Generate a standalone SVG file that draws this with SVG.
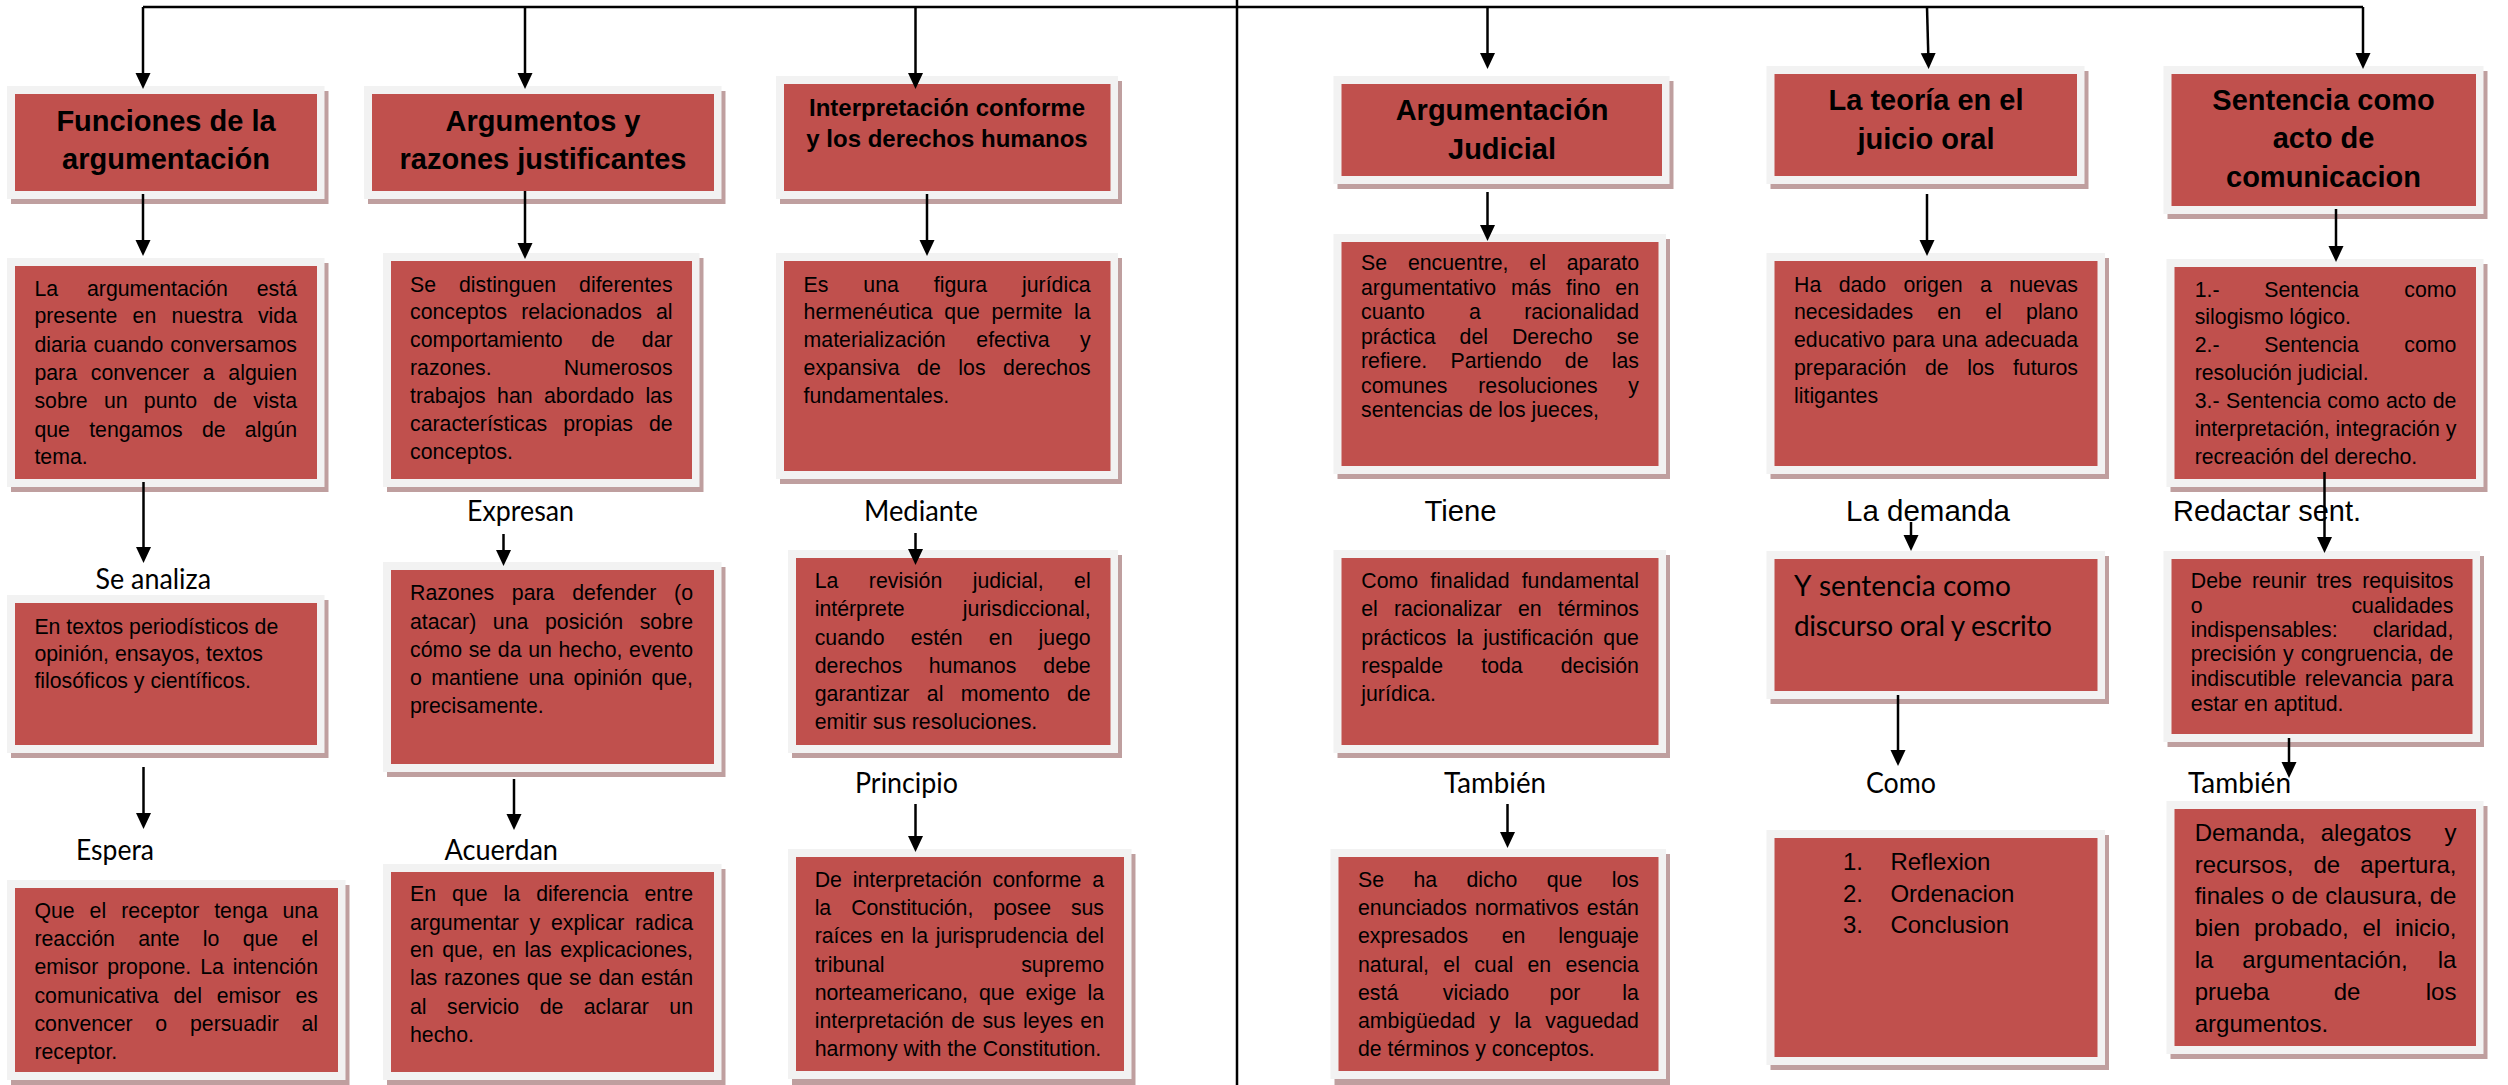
<svg xmlns="http://www.w3.org/2000/svg" width="2508" height="1085" viewBox="0 0 2508 1085">
<defs>
<marker id="ah" viewBox="0 0 16 16" refX="10" refY="8" markerWidth="16" markerHeight="16" markerUnits="userSpaceOnUse" orient="auto"><path d="M0,0.5 L16,8 L0,15.5 z" fill="#000"/></marker>
</defs>
<style>
.sh{fill:#bf9f9f}
.fr{fill:#f2f2f2}
.rd{fill:#c0504d}
text{fill:#000}
.t{font-family:"Liberation Sans",Arial,sans-serif;font-size:21.3px}
.t24{font-family:"Liberation Sans",Arial,sans-serif;font-size:24px}
.ti{font-family:"Liberation Sans",Arial,sans-serif;font-size:29px;font-weight:bold;text-anchor:middle}
.ti2{font-family:"Liberation Sans",Arial,sans-serif;font-size:24px;font-weight:bold;text-anchor:middle}
.cal{font-family:Lato,"Open Sans",sans-serif;font-size:28px}
.arl{font-family:"Liberation Sans",Arial,sans-serif;font-size:29px}
.m{text-anchor:middle}
.e{text-anchor:end}
.cn{stroke:#000;stroke-width:2.5;fill:none}
</style>
<rect width="2508" height="1085" fill="#fff"/>

<!-- Column A -->
<g id="funciones">
<rect class="sh" x="11" y="91" width="317.5" height="113"/>
<rect class="fr" x="7" y="86" width="317.5" height="113"/>
<rect class="rd" x="15" y="94" width="302" height="97"/>
<text class="ti" x="166" y="130.7">Funciones de la</text>
<text class="ti" x="166" y="169.3">argumentación</text>
</g>
<g id="funciones-desc">
<rect class="sh" x="11" y="263" width="317.5" height="229"/>
<rect class="fr" x="7" y="258" width="317.5" height="229"/>
<rect class="rd" x="15" y="266" width="302" height="213"/>
<text class="t" x="34.4" y="296" style="word-spacing:22.97px" textLength="262.6" lengthAdjust="spacing">La argumentación está</text>
<text class="t" x="34.4" y="323.3" style="word-spacing:9.39px" textLength="262.6" lengthAdjust="spacing">presente en nuestra vida</text>
<text class="t" x="34.4" y="351.7" style="word-spacing:1.09px" textLength="262.6" lengthAdjust="spacing">diaria cuando conversamos</text>
<text class="t" x="34.4" y="380" style="word-spacing:7.82px" textLength="262.6" lengthAdjust="spacing">para convencer a alguien</text>
<text class="t" x="34.4" y="408.3" style="word-spacing:10.3px" textLength="262.6" lengthAdjust="spacing">sobre un punto de vista</text>
<text class="t" x="34.4" y="436.7" style="word-spacing:13.3px" textLength="262.6" lengthAdjust="spacing">que tengamos de algún</text>
<text class="t" x="34.4" y="464.3">tema.</text>
</g>
<g id="se-analiza">
<text class="cal" x="95.5" y="589" textLength="115.5" lengthAdjust="spacingAndGlyphs">Se analiza</text>
</g>
<g id="textos">
<rect class="sh" x="11" y="600" width="317.5" height="158"/>
<rect class="fr" x="7" y="595" width="317.5" height="158"/>
<rect class="rd" x="15" y="603" width="302" height="142"/>
<text class="t" x="34.4" y="633.5">En textos periodísticos de</text>
<text class="t" x="34.4" y="661">opinión, ensayos, textos</text>
<text class="t" x="34.4" y="688">filosóficos y científicos.</text>
</g>
<g id="espera">
<text class="cal" x="76" y="860" textLength="78" lengthAdjust="spacingAndGlyphs">Espera</text>
</g>
<g id="receptor">
<rect class="sh" x="11" y="885" width="338.5" height="200"/>
<rect class="fr" x="7" y="880" width="338.5" height="200"/>
<rect class="rd" x="15" y="888" width="323" height="184"/>
<text class="t" x="34.4" y="918" style="word-spacing:9.04px" textLength="283.6" lengthAdjust="spacing">Que el receptor tenga una</text>
<text class="t" x="34.4" y="945.6" style="word-spacing:17.3px" textLength="283.6" lengthAdjust="spacing">reacción ante lo que el</text>
<text class="t" x="34.4" y="974" style="word-spacing:2.98px" textLength="283.6" lengthAdjust="spacing">emisor propone. La intención</text>
<text class="t" x="34.4" y="1003" style="word-spacing:8.92px" textLength="283.6" lengthAdjust="spacing">comunicativa del emisor es</text>
<text class="t" x="34.4" y="1031" style="word-spacing:16.8px" textLength="283.6" lengthAdjust="spacing">convencer o persuadir al</text>
<text class="t" x="34.4" y="1059">receptor.</text>
</g>

<!-- Column B -->
<g id="argumentos">
<rect class="sh" x="368" y="91" width="357.5" height="113"/>
<rect class="fr" x="364" y="86" width="357.5" height="113"/>
<rect class="rd" x="372" y="94" width="342" height="97"/>
<text class="ti" x="543" y="130.7">Argumentos y</text>
<text class="ti" x="543" y="169.3">razones justificantes</text>
</g>
<g id="argumentos-desc">
<rect class="sh" x="387" y="258" width="316.5" height="234"/>
<rect class="fr" x="383" y="253" width="316.5" height="234"/>
<rect class="rd" x="391" y="261" width="301" height="218"/>
<text class="t" x="410" y="291.7" style="word-spacing:17.05px" textLength="262.6" lengthAdjust="spacing">Se distinguen diferentes</text>
<text class="t" x="410" y="319.3" style="word-spacing:8.18px" textLength="262.6" lengthAdjust="spacing">conceptos relacionados al</text>
<text class="t" x="410" y="347.3">comportamiento</text>
<text class="t m" x="603" y="347.3">de</text>
<text class="t e" x="672.6" y="347.3">dar</text>
<text class="t" x="410" y="375">razones.</text>
<text class="t e" x="672.6" y="375">Numerosos</text>
<text class="t" x="410" y="403.3" style="word-spacing:5.45px" textLength="262.6" lengthAdjust="spacing">trabajos han abordado las</text>
<text class="t" x="410" y="431" style="word-spacing:9.97px" textLength="262.6" lengthAdjust="spacing">características propias de</text>
<text class="t" x="410" y="459">conceptos.</text>
</g>
<g id="expresan">
<text class="cal" x="467" y="520.5" textLength="107" lengthAdjust="spacingAndGlyphs">Expresan</text>
</g>
<g id="razones">
<rect class="sh" x="387" y="567" width="338.5" height="210"/>
<rect class="fr" x="383" y="562" width="338.5" height="210"/>
<rect class="rd" x="391" y="570" width="323" height="194"/>
<text class="t" x="410" y="599.6" style="word-spacing:11.85px" textLength="283" lengthAdjust="spacing">Razones para defender (o</text>
<text class="t" x="410" y="628.5" style="word-spacing:10.67px" textLength="283" lengthAdjust="spacing">atacar) una posición sobre</text>
<text class="t" x="410" y="656.7" style="word-spacing:0.71px" textLength="283" lengthAdjust="spacing">cómo se da un hecho, evento</text>
<text class="t" x="410" y="684.5" style="word-spacing:3.55px" textLength="283" lengthAdjust="spacing">o mantiene una opinión que,</text>
<text class="t" x="410" y="712.6">precisamente.</text>
</g>
<g id="acuerdan">
<text class="cal" x="444.5" y="860" textLength="113.5" lengthAdjust="spacingAndGlyphs">Acuerdan</text>
</g>
<g id="diferencia">
<rect class="sh" x="387" y="869" width="338.5" height="216"/>
<rect class="fr" x="383" y="864" width="338.5" height="216"/>
<rect class="rd" x="391" y="872" width="323" height="200"/>
<text class="t" x="410" y="901" style="word-spacing:10.07px" textLength="283" lengthAdjust="spacing">En que la diferencia entre</text>
<text class="t" x="410" y="929.5" style="word-spacing:4.77px" textLength="283" lengthAdjust="spacing">argumentar y explicar radica</text>
<text class="t" x="410" y="957" style="word-spacing:2.9px" textLength="283" lengthAdjust="spacing">en que, en las explicaciones,</text>
<text class="t" x="410" y="985" style="word-spacing:0.95px" textLength="283" lengthAdjust="spacing">las razones que se dan están</text>
<text class="t" x="410" y="1013.6" style="word-spacing:14.5px" textLength="283" lengthAdjust="spacing">al servicio de aclarar un</text>
<text class="t" x="410" y="1041.7">hecho.</text>
</g>

<!-- Column C -->
<g id="interpretacion">
<rect class="sh" x="780" y="81" width="342" height="123"/>
<rect class="fr" x="776" y="76" width="342" height="123"/>
<rect class="rd" x="784" y="84" width="326.5" height="107"/>
<text class="ti2" x="947" y="115.7">Interpretación conforme</text>
<text class="ti2" x="947" y="146.7">y los derechos humanos</text>
</g>
<g id="interpretacion-desc">
<rect class="sh" x="780" y="258" width="342" height="226"/>
<rect class="fr" x="776" y="253" width="342" height="226"/>
<rect class="rd" x="784" y="261" width="326.5" height="210"/>
<text class="t" x="803.6" y="291.7" style="word-spacing:29px" textLength="287.1" lengthAdjust="spacing">Es una figura jurídica</text>
<text class="t" x="803.6" y="319.3" style="word-spacing:5.73px" textLength="287.1" lengthAdjust="spacing">hermenéutica que permite la</text>
<text class="t" x="803.6" y="347.3">materialización</text>
<text class="t m" x="1013" y="347.3">efectiva</text>
<text class="t e" x="1090.7" y="347.3">y</text>
<text class="t" x="803.6" y="375" style="word-spacing:11.65px" textLength="287.1" lengthAdjust="spacing">expansiva de los derechos</text>
<text class="t" x="803.6" y="402.7">fundamentales.</text>
</g>
<g id="mediante">
<text class="cal" x="864" y="520.5" textLength="114" lengthAdjust="spacingAndGlyphs">Mediante</text>
</g>
<g id="revision">
<rect class="sh" x="792" y="555" width="330" height="203"/>
<rect class="fr" x="788" y="550" width="330" height="203"/>
<rect class="rd" x="796" y="558" width="314.5" height="187"/>
<text class="t" x="814.7" y="588" style="word-spacing:24.5px" textLength="276" lengthAdjust="spacing">La revisión judicial, el</text>
<text class="t" x="814.7" y="615.8">intérprete</text>
<text class="t e" x="1090.7" y="615.8">jurisdiccional,</text>
<text class="t" x="814.7" y="645" style="word-spacing:20.2px" textLength="276" lengthAdjust="spacing">cuando estén en juego</text>
<text class="t" x="814.7" y="673">derechos</text>
<text class="t m" x="972.5" y="673">humanos</text>
<text class="t e" x="1090.7" y="673">debe</text>
<text class="t" x="814.7" y="701" style="word-spacing:11.5px" textLength="276" lengthAdjust="spacing">garantizar al momento de</text>
<text class="t" x="814.7" y="729">emitir sus resoluciones.</text>
</g>
<g id="principio">
<text class="cal" x="855" y="792.5" textLength="103" lengthAdjust="spacingAndGlyphs">Principio</text>
</g>
<g id="constitucion">
<rect class="sh" x="792" y="854" width="343.5" height="231"/>
<rect class="fr" x="788" y="849" width="343.5" height="230"/>
<rect class="rd" x="796" y="857" width="328" height="214"/>
<text class="t" x="814.7" y="887" style="word-spacing:4.88px" textLength="289.3" lengthAdjust="spacing">De interpretación conforme a</text>
<text class="t" x="814.7" y="915" style="word-spacing:14.27px" textLength="289.3" lengthAdjust="spacing">la Constitución, posee sus</text>
<text class="t" x="814.7" y="943" style="word-spacing:1.9px" textLength="289.3" lengthAdjust="spacing">raíces en la jurisprudencia del</text>
<text class="t" x="814.7" y="972">tribunal</text>
<text class="t e" x="1104" y="972">supremo</text>
<text class="t" x="814.7" y="1000" style="word-spacing:5.28px" textLength="289.3" lengthAdjust="spacing">norteamericano, que exige la</text>
<text class="t" x="814.7" y="1028" style="word-spacing:1.59px" textLength="289.3" lengthAdjust="spacing">interpretación de sus leyes en</text>
<text class="t" x="814.7" y="1056">harmony with the Constitution.</text>
</g>

<!-- Column D -->
<g id="arg-judicial">
<rect class="sh" x="1337.5" y="81" width="336" height="108"/>
<rect class="fr" x="1333.5" y="76" width="336" height="108"/>
<rect class="rd" x="1341.5" y="84" width="320.5" height="92"/>
<text class="ti" x="1502" y="120">Argumentación</text>
<text class="ti" x="1502" y="159.3">Judicial</text>
</g>
<g id="arg-judicial-desc">
<rect class="sh" x="1337.5" y="239" width="332.5" height="240"/>
<rect class="fr" x="1333.5" y="234" width="332.5" height="240"/>
<rect class="rd" x="1341.5" y="242" width="317" height="224"/>
<text class="t" x="1361" y="270" style="word-spacing:14.9px" textLength="278" lengthAdjust="spacing">Se encuentre, el aparato</text>
<text class="t" x="1361" y="295" style="word-spacing:9px" textLength="278" lengthAdjust="spacing">argumentativo más fino en</text>
<text class="t" x="1361" y="319">cuanto</text>
<text class="t m" x="1475" y="319">a</text>
<text class="t e" x="1639" y="319">racionalidad</text>
<text class="t" x="1361" y="344" style="word-spacing:18.1px" textLength="278" lengthAdjust="spacing">práctica del Derecho se</text>
<text class="t" x="1361" y="368" style="word-spacing:17.3px" textLength="278" lengthAdjust="spacing">refiere. Partiendo de las</text>
<text class="t" x="1361" y="393">comunes</text>
<text class="t m" x="1538" y="393">resoluciones</text>
<text class="t e" x="1639" y="393">y</text>
<text class="t" x="1361" y="417">sentencias de los jueces,</text>
</g>
<g id="tiene">
<text class="arl" x="1424.6" y="520.5" textLength="72" lengthAdjust="spacingAndGlyphs">Tiene</text>
</g>
<g id="finalidad">
<rect class="sh" x="1337.5" y="555" width="332.5" height="203"/>
<rect class="fr" x="1333.5" y="550" width="332.5" height="203"/>
<rect class="rd" x="1341.5" y="558" width="317" height="187"/>
<text class="t" x="1361.3" y="588" style="word-spacing:6.2px" textLength="277.6" lengthAdjust="spacing">Como finalidad fundamental</text>
<text class="t" x="1361.3" y="615.8" style="word-spacing:10.4px" textLength="277.6" lengthAdjust="spacing">el racionalizar en términos</text>
<text class="t" x="1361.3" y="645" style="word-spacing:4.15px" textLength="277.6" lengthAdjust="spacing">prácticos la justificación que</text>
<text class="t" x="1361.3" y="673">respalde</text>
<text class="t m" x="1502" y="673">toda</text>
<text class="t e" x="1638.9" y="673">decisión</text>
<text class="t" x="1361.3" y="700.7">jurídica.</text>
</g>
<g id="tambien-d">
<text class="cal" x="1444" y="792.5" textLength="102" lengthAdjust="spacingAndGlyphs">También</text>
</g>
<g id="enunciados">
<rect class="sh" x="1334.5" y="854" width="335.5" height="231"/>
<rect class="fr" x="1330.5" y="849" width="335.5" height="230"/>
<rect class="rd" x="1338.5" y="857" width="320" height="214"/>
<text class="t" x="1358" y="887" style="word-spacing:23.45px" textLength="280.9" lengthAdjust="spacing">Se ha dicho que los</text>
<text class="t" x="1358" y="915" style="word-spacing:1.94px" textLength="280.9" lengthAdjust="spacing">enunciados normativos están</text>
<text class="t" x="1358" y="943">expresados</text>
<text class="t m" x="1513.5" y="943">en</text>
<text class="t e" x="1638.9" y="943">lenguaje</text>
<text class="t" x="1358" y="972" style="word-spacing:8.37px" textLength="280.9" lengthAdjust="spacing">natural, el cual en esencia</text>
<text class="t" x="1358" y="1000">está</text>
<text class="t m" x="1476" y="1000">viciado</text>
<text class="t m" x="1565" y="1000">por</text>
<text class="t e" x="1638.9" y="1000">la</text>
<text class="t" x="1358" y="1028" style="word-spacing:8.39px" textLength="280.9" lengthAdjust="spacing">ambigüedad y la vaguedad</text>
<text class="t" x="1358" y="1056">de términos y conceptos.</text>
</g>

<!-- Column E -->
<g id="teoria">
<rect class="sh" x="1770.5" y="71" width="318" height="118"/>
<rect class="fr" x="1766.5" y="66" width="318" height="118"/>
<rect class="rd" x="1774.5" y="74" width="302.5" height="102"/>
<text class="ti" x="1926" y="110">La teoría en el</text>
<text class="ti" x="1926" y="149.3">juicio oral</text>
</g>
<g id="teoria-desc">
<rect class="sh" x="1770.5" y="258" width="338.5" height="221"/>
<rect class="fr" x="1766.5" y="253" width="338.5" height="221"/>
<rect class="rd" x="1774.5" y="261" width="323" height="205"/>
<text class="t" x="1794" y="291.7" style="word-spacing:11.5px" textLength="284" lengthAdjust="spacing">Ha dado origen a nuevas</text>
<text class="t" x="1794" y="319.3" style="word-spacing:18.5px" textLength="284" lengthAdjust="spacing">necesidades en el plano</text>
<text class="t" x="1794" y="347.3" style="word-spacing:1.12px" textLength="284" lengthAdjust="spacing">educativo para una adecuada</text>
<text class="t" x="1794" y="375" style="word-spacing:12.6px" textLength="284" lengthAdjust="spacing">preparación de los futuros</text>
<text class="t" x="1794" y="402.7">litigantes</text>
</g>
<g id="la-demanda">
<text class="arl" x="1846" y="520.5" textLength="164" lengthAdjust="spacingAndGlyphs">La demanda</text>
</g>
<g id="sentencia-discurso">
<rect class="sh" x="1770.5" y="556" width="338.5" height="148"/>
<rect class="fr" x="1766.5" y="551" width="338.5" height="148"/>
<rect class="rd" x="1774.5" y="559" width="323" height="132"/>
<text class="cal" x="1794" y="595.7"><tspan>Y</tspan><tspan x="1819">sentencia como</tspan></text>
<text class="cal" x="1794" y="636" textLength="258" lengthAdjust="spacing">discurso oral y escrito</text>
</g>
<g id="como">
<text class="cal" x="1866" y="792.5" textLength="70" lengthAdjust="spacingAndGlyphs">Como</text>
</g>
<g id="lista">
<rect class="sh" x="1770.5" y="835" width="338.5" height="235"/>
<rect class="fr" x="1766.5" y="830" width="338.5" height="235"/>
<rect class="rd" x="1774.5" y="838" width="323" height="219"/>
<text class="t24" x="1843" y="869.7">1.</text>
<text class="t24" x="1890.4" y="869.7">Reflexion</text>
<text class="t24" x="1843" y="901.7">2.</text>
<text class="t24" x="1890.4" y="901.7">Ordenacion</text>
<text class="t24" x="1843" y="933.3">3.</text>
<text class="t24" x="1890.4" y="933.3">Conclusion</text>
</g>

<!-- Column F -->
<g id="sentencia">
<rect class="sh" x="2167.5" y="71" width="320" height="148"/>
<rect class="fr" x="2163.5" y="66" width="320" height="148"/>
<rect class="rd" x="2171.5" y="74" width="304.5" height="132"/>
<text class="ti" x="2323.5" y="110">Sentencia como</text>
<text class="ti" x="2323.5" y="148.3">acto de</text>
<text class="ti" x="2323.5" y="186.7">comunicacion</text>
</g>
<g id="sentencia-desc">
<rect class="sh" x="2170.5" y="264" width="317" height="228"/>
<rect class="fr" x="2166.5" y="259" width="317" height="228"/>
<rect class="rd" x="2174.5" y="267" width="301.5" height="212"/>
<text class="t" x="2194.7" y="296.7">1.-</text>
<text class="t m" x="2311.6" y="296.7">Sentencia</text>
<text class="t e" x="2456.4" y="296.7">como</text>
<text class="t" x="2194.7" y="324">silogismo lógico.</text>
<text class="t" x="2194.7" y="352">2.-</text>
<text class="t m" x="2311.6" y="352">Sentencia</text>
<text class="t e" x="2456.4" y="352">como</text>
<text class="t" x="2194.7" y="380">resolución judicial.</text>
<text class="t" x="2194.7" y="408" style="word-spacing:0.6px" textLength="261.7" lengthAdjust="spacing">3.- Sentencia como acto de</text>
<text class="t" x="2194.7" y="436" textLength="261.7" lengthAdjust="spacing">interpretación, integración y</text>
<text class="t" x="2194.7" y="464.3">recreación del derecho.</text>
</g>
<g id="redactar">
<text class="arl" x="2173" y="520.5" textLength="188" lengthAdjust="spacingAndGlyphs">Redactar sent.</text>
</g>
<g id="requisitos">
<rect class="sh" x="2167.5" y="556" width="316.5" height="191"/>
<rect class="fr" x="2163.5" y="551" width="316.5" height="191"/>
<rect class="rd" x="2171.5" y="559" width="301" height="175"/>
<text class="t" x="2190.8" y="588" style="word-spacing:4.24px" textLength="262.5" lengthAdjust="spacing">Debe reunir tres requisitos</text>
<text class="t" x="2190.8" y="613">o</text>
<text class="t e" x="2453.3" y="613">cualidades</text>
<text class="t" x="2190.8" y="637.4">indispensables:</text>
<text class="t e" x="2453.3" y="637.4">claridad,</text>
<text class="t" x="2190.8" y="661.3" style="word-spacing:1.08px" textLength="262.5" lengthAdjust="spacing">precisión y congruencia, de</text>
<text class="t" x="2190.8" y="686.4" style="word-spacing:2.81px" textLength="262.5" lengthAdjust="spacing">indiscutible relevancia para</text>
<text class="t" x="2190.8" y="710.7">estar en aptitud.</text>
</g>
<g id="tambien-f">
<text class="cal" x="2188" y="792.5" textLength="103" lengthAdjust="spacingAndGlyphs">También</text>
</g>
<g id="demanda-alegatos">
<rect class="sh" x="2170.5" y="806" width="317" height="253"/>
<rect class="fr" x="2166.5" y="801" width="317" height="253"/>
<rect class="rd" x="2174.5" y="809" width="301.5" height="237"/>
<text class="t24" x="2194.7" y="840.7">Demanda,</text>
<text class="t24 m" x="2366" y="840.7">alegatos</text>
<text class="t24 e" x="2456.4" y="840.7">y</text>
<text class="t24" x="2194.7" y="872.7" style="word-spacing:13.5px" textLength="261.7" lengthAdjust="spacing">recursos, de apertura,</text>
<text class="t24" x="2194.7" y="904.4" style="word-spacing:0.39px" textLength="261.7" lengthAdjust="spacing">finales o de clausura, de</text>
<text class="t24" x="2194.7" y="936" style="word-spacing:7.2px" textLength="261.7" lengthAdjust="spacing">bien probado, el inicio,</text>
<text class="t24" x="2194.7" y="968">la</text>
<text class="t24 m" x="2325" y="968">argumentación,</text>
<text class="t24 e" x="2456.4" y="968">la</text>
<text class="t24" x="2194.7" y="999.7">prueba</text>
<text class="t24 m" x="2347" y="999.7">de</text>
<text class="t24 e" x="2456.4" y="999.7">los</text>
<text class="t24" x="2194.7" y="1031.7">argumentos.</text>
</g>

<g id="connectors">
<line class="cn" x1="1237" y1="0" x2="1237" y2="1085"/>
<path class="cn" d="M143,7 H2363"/>
<line class="cn" x1="143" y1="7" x2="143" y2="83" marker-end="url(#ah)"/>
<line class="cn" x1="525" y1="7" x2="525" y2="83" marker-end="url(#ah)"/>
<line class="cn" x1="915.5" y1="7" x2="915.5" y2="83" marker-end="url(#ah)"/>
<line class="cn" x1="1487.5" y1="7" x2="1487.5" y2="63" marker-end="url(#ah)"/>
<line class="cn" x1="1927" y1="7" x2="1928.5" y2="63" marker-end="url(#ah)"/>
<line class="cn" x1="2363" y1="7" x2="2363" y2="63" marker-end="url(#ah)"/>

<line class="cn" x1="143" y1="194" x2="143" y2="250" marker-end="url(#ah)"/>
<line class="cn" x1="525" y1="191" x2="525" y2="253" marker-end="url(#ah)"/>
<line class="cn" x1="927" y1="194" x2="927" y2="250" marker-end="url(#ah)"/>
<line class="cn" x1="1487.5" y1="192" x2="1487.5" y2="235" marker-end="url(#ah)"/>
<line class="cn" x1="1927" y1="194" x2="1927" y2="250" marker-end="url(#ah)"/>
<line class="cn" x1="2336" y1="209" x2="2336" y2="256" marker-end="url(#ah)"/>

<line class="cn" x1="143.5" y1="482" x2="143.5" y2="557" marker-end="url(#ah)"/>
<line class="cn" x1="503.5" y1="534" x2="503.5" y2="560" marker-end="url(#ah)"/>
<line class="cn" x1="915.5" y1="533" x2="915.5" y2="559" marker-end="url(#ah)"/>
<line class="cn" x1="1911" y1="522" x2="1911" y2="545" marker-end="url(#ah)"/>
<line class="cn" x1="2324.5" y1="472" x2="2324.5" y2="547" marker-end="url(#ah)"/>

<line class="cn" x1="143.5" y1="767" x2="143.5" y2="823" marker-end="url(#ah)"/>
<line class="cn" x1="514" y1="779" x2="514" y2="824" marker-end="url(#ah)"/>
<line class="cn" x1="915.5" y1="804" x2="915.5" y2="846" marker-end="url(#ah)"/>
<line class="cn" x1="1507.5" y1="804" x2="1507.5" y2="842" marker-end="url(#ah)"/>
<line class="cn" x1="1898" y1="695" x2="1898" y2="760" marker-end="url(#ah)"/>
<line class="cn" x1="2289" y1="738" x2="2289" y2="772" marker-end="url(#ah)"/>
</g>
</svg>
